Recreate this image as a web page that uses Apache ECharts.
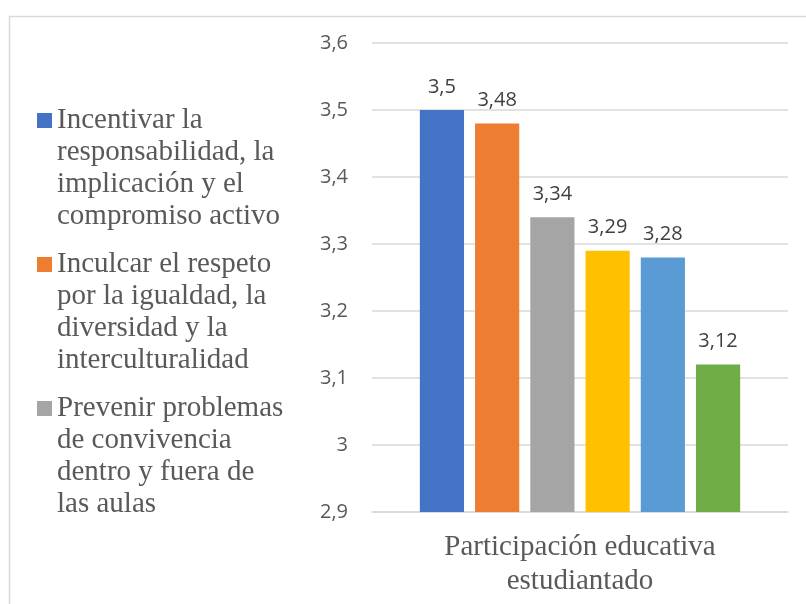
<!DOCTYPE html>
<html>
<head>
<meta charset="utf-8">
<script src="https://cdn.jsdelivr.net/npm/echarts@6/dist/echarts.min.js"></script>
<style>
html,body{margin:0;padding:0;background:#fff;}
#chart{width:806px;height:604px;}
</style>
</head>
<body>
<div id="chart"></div>
<script>
var categories = ['Participación educativa\nestudiantado'];
var seriesNames = [
  'Incentivar la\nresponsabilidad, la\nimplicación y el\ncompromiso activo',
  'Inculcar el respeto\npor la igualdad, la\ndiversidad y la\ninterculturalidad',
  'Prevenir problemas\nde convivencia\ndentro y fuera de\nlas aulas',
  'Serie 4',
  'Serie 5',
  'Serie 6'
];
var seriesValues = [3.5, 3.48, 3.34, 3.29, 3.28, 3.12];
var seriesColors = ['#4472C4', '#ED7D31', '#A5A5A5', '#FFC000', '#5B9BD5', '#70AD47'];
var legendShown = seriesNames.slice(0, 3);

function fmt(v) {
  return String(Number(Number(v).toFixed(2))).replace('.', ',');
}

var LH = 32;
// legend marker: a square beside the first text line, inside a 4-line tall box
var legendIcon = 'path://M0,0L0.01,0L0,0Z M0,' + (LH / 2 - 7.5) + 'H15V' + (LH / 2 + 7.5) +
  'H0Z M0,' + (4 * LH) + 'L0.01,' + (4 * LH) + 'L0,' + (4 * LH) + 'Z';

var chart = echarts.init(document.getElementById('chart'), null, {renderer: 'canvas'});

var series = seriesNames.map(function (name, i) {
  return {
    name: name,
    type: 'bar',
    data: [seriesValues[i]],
    itemStyle: {color: seriesColors[i]},
    barGap: '25%',
    barCategoryGap: '23%',
    label: {
      show: true,
      position: 'top',
      distance: 13,
      fontFamily: 'Open Sans',
      fontSize: 20,
      color: '#404040',
      formatter: function (p) { return fmt(p.value); }
    }
  };
});

chart.setOption({
  animation: false,
  backgroundColor: '#ffffff',
  graphic: [{
    type: 'rect',
    left: 7,
    top: 14,
    shape: {width: 840, height: 640},
    style: {fill: 'none', stroke: '#D9D9D9', lineWidth: 1.5},
    silent: true,
    z: -10
  }],
  legend: {
    data: legendShown,
    orient: 'vertical',
    left: 37,
    top: 104.5,
    padding: 0,
    itemGap: 16,
    itemWidth: 15,
    itemHeight: 4 * LH,
    icon: legendIcon,
    textStyle: {
      fontFamily: 'Liberation Serif',
      fontSize: 29,
      lineHeight: LH,
      color: '#595959'
    }
  },
  grid: {left: 372, right: 18, top: 43, bottom: 92, containLabel: false},
  xAxis: {
    type: 'category',
    data: categories,
    axisLine: {show: true, lineStyle: {color: '#D9D9D9', width: 1.5}},
    axisTick: {show: false},
    axisLabel: {
      margin: 18,
      fontFamily: 'Liberation Serif',
      fontSize: 29,
      lineHeight: 34,
      color: '#595959'
    }
  },
  yAxis: {
    type: 'value',
    min: 2.9,
    max: 3.6,
    interval: 0.1,
    axisLine: {show: false},
    axisTick: {show: false},
    splitLine: {lineStyle: {color: '#D9D9D9', width: 1.5}},
    axisLabel: {
      margin: 24,
      fontFamily: 'Open Sans',
      fontSize: 20,
      color: '#595959',
      formatter: function (v) { return fmt(v); }
    }
  },
  series: series
});
</script>
</body>
</html>
